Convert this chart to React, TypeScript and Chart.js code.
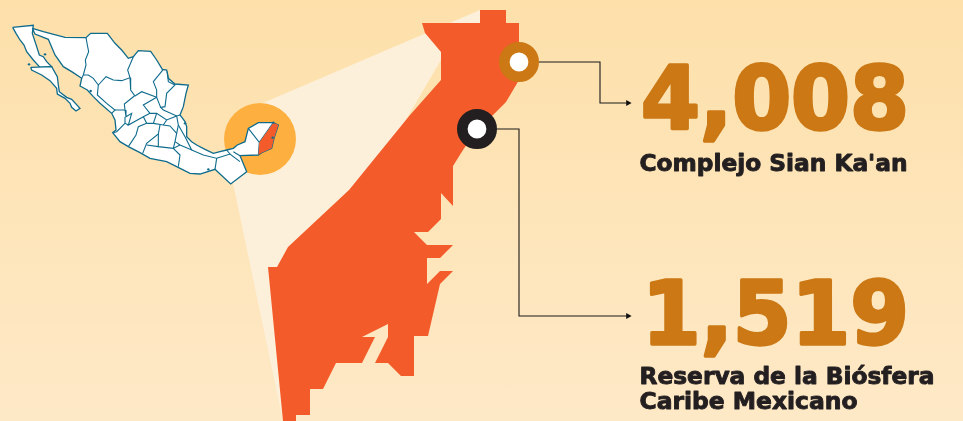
import React, { useEffect, useRef } from "react";
import { Chart, registerables } from "chart.js";

Chart.register(...registerables);

type P = [number, number];

const WIDTH = 963;
const HEIGHT = 421;

// Reserve counts
const categories = ["Complejo Sian Ka'an", "Reserva de la Biósfera", "Caribe Mexicano"];
const valueLabels = ["4,008", "1,519"];

const peninsula: P[] = [
  [480, 10], [506, 10], [506, 23], [519, 23], [519, 80], [506, 102], [493, 115], [477, 129], [463, 150],
  [453, 166], [453, 206], [441, 193], [441, 219], [428, 232], [414, 232], [427, 245], [453, 245], [440, 258],
  [427, 258], [427, 284], [440, 271], [453, 271], [440, 284], [428, 336], [414, 336], [414, 376], [401, 376],
  [388, 363], [375, 363], [388, 337], [388, 324], [362, 337], [375, 337], [362, 363], [336, 363], [323, 389],
  [310, 389], [310, 415], [296, 415], [296, 421], [283, 421], [268, 267], [277, 267], [288, 247], [349, 190],
  [410, 115], [441, 80], [441, 52], [425, 33], [422, 23], [480, 23],
];
const wedge: P[] = [[263, 103], [480, 10], [480, 23], [441, 60], [300, 300], [283, 421], [233, 183]];

const baja: P[] = [[38, 52], [100, 46], [97, 70], [110, 110], [118, 135], [130, 140], [140, 155], [155, 170], [120, 172], [100, 150], [80, 125], [72, 105], [60, 90], [48, 70]];
const bajaSur: P[] = [[92, 172], [155, 170], [172, 200], [175, 225], [178, 245], [200, 262], [215, 268], [240, 295], [228, 303], [215, 292], [210, 280], [195, 265], [172, 252], [170, 235], [150, 212], [125, 195], [95, 180]];
const mainland: P[] = [
  [97, 55], [130, 65], [195, 82], [258, 83], [272, 70], [322, 70], [345, 100], [365, 120], [385, 145], [400, 140],
  [415, 122], [452, 124], [470, 150], [487, 178], [500, 180], [505, 205], [525, 222], [565, 225], [558, 250],
  [550, 290], [540, 315], [555, 335], [560, 350], [560, 380], [575, 395], [590, 405], [615, 418], [640, 430],
  [660, 425], [680, 420], [700, 415], [712, 405], [735, 395], [745, 355], [775, 338], [820, 338], [835, 345],
  [822, 385], [815, 415], [785, 428], [775, 435], [720, 437], [740, 485], [692, 522], [645, 478], [600, 492],
  [570, 490], [530, 470], [500, 455], [450, 445], [420, 428], [385, 410], [360, 395], [338, 368], [348, 360],
  [345, 330], [335, 310], [300, 280], [280, 260], [262, 240], [240, 228], [245, 205], [215, 185], [190, 170],
  [165, 135], [145, 88], [105, 72],
];
const quintanaRoo: P[] = [[820, 338], [835, 345], [822, 385], [815, 415], [785, 428], [775, 435], [778, 397]];

const borders: P[][] = [
  [[258, 83], [262, 105], [266, 125], [256, 150], [258, 165], [250, 195]],
  [[245, 205], [250, 195], [265, 195], [280, 205], [295, 225], [318, 200], [340, 210], [365, 212], [390, 203], [383, 180], [400, 140]],
  [[295, 225], [292, 255], [320, 280], [345, 300], [335, 310]],
  [[345, 300], [375, 300], [373, 282], [403, 258]],
  [[390, 203], [392, 240], [405, 258], [425, 245], [470, 262]],
  [[490, 178], [460, 215], [470, 240], [470, 262], [482, 292]],
  [[502, 185], [505, 215], [525, 225], [500, 250], [495, 290], [482, 292], [490, 300], [530, 318], [540, 315]],
  [[470, 262], [430, 285], [450, 310], [470, 310], [500, 330], [530, 318]],
  [[375, 300], [378, 320], [395, 310], [385, 345], [430, 320], [450, 310]],
  [[375, 320], [375, 340], [350, 365], [340, 368]],
  [[430, 320], [440, 340], [415, 350], [408, 375], [385, 410]],
  [[375, 340], [385, 345]],
  [[470, 310], [460, 340], [440, 340]],
  [[500, 330], [490, 345], [460, 340]],
  [[480, 345], [475, 372], [440, 400], [428, 430]],
  [[490, 345], [510, 348], [530, 370], [525, 395], [520, 415], [475, 410], [475, 372]],
  [[440, 405], [475, 410]],
  [[530, 318], [535, 345], [530, 370]],
  [[535, 345], [555, 380], [575, 420], [540, 405], [525, 395]],
  [[535, 470], [540, 435], [520, 415], [540, 405]],
  [[575, 420], [610, 435], [650, 445], [645, 478]],
  [[650, 445], [690, 432], [720, 455]],
  [[680, 420], [690, 432]],
  [[700, 425], [720, 437]],
  [[775, 435], [778, 397], [745, 355]],
  [[778, 397], [820, 338]],
];
const islands: P[] = [[820, 338], [818, 383], [87, 163], [135, 133], [625, 478], [555, 340], [272, 243]];

const ringSianKaan: P = [519, 62];
const ringCaribe: P = [477, 129];
const insetCircle: P = [260, 139];
const leaderSianKaan: P[] = [[539, 62], [600, 62], [600, 103], [628, 103]];
const leaderCaribe: P[] = [[497, 129], [519, 129], [519, 316], [628, 316]];

const COL_ORANGE = "#F45B2A";
const COL_OCHRE = "#CB7815";
const COL_DARK = "#231F20";
const COL_LINE = "#0F6B8C";

const pts = (a: P[]) => a.map(([x, y]) => ({ x, y }));
const inset = (a: P[]) => a.map(([x, y]) => ({ x: x / 3, y: y / 3 + 10 }));

const shape = (data: { x: number; y: number }[], fillCol: string, stroke = "transparent", bw = 0) => ({
  type: "scatter" as const,
  data: [...data, data[0]],
  showLine: true,
  fill: "shape",
  tension: 0,
  backgroundColor: fillCol,
  borderColor: stroke,
  borderWidth: bw,
  pointRadius: 0,
  clip: false,
});

const polyline = (data: { x: number; y: number }[], color: string, bw: number) => ({
  type: "scatter" as const,
  data,
  showLine: true,
  fill: false,
  tension: 0,
  borderColor: color,
  borderWidth: bw,
  pointRadius: 0,
  clip: false,
});

const arrow = (p: P) => ({
  type: "scatter" as const,
  data: [{ x: p[0], y: p[1] }],
  showLine: false,
  pointStyle: "triangle",
  pointRotation: 90,
  pointRadius: 3.6,
  backgroundColor: "#111",
  borderColor: "#111",
  borderWidth: 0,
  clip: false,
});

const dot = (p: P, radius: number, fillCol: string, stroke = "transparent", bw = 0) => ({
  type: "scatter" as const,
  data: [{ x: p[0], y: p[1] }],
  showLine: false,
  pointStyle: "circle",
  pointRadius: radius,
  backgroundColor: fillCol,
  borderColor: stroke,
  borderWidth: bw,
  clip: false,
});

type Label = { text: string; x: number; y: number; w: number; size: number; color: string; stroke: number };
const labels: Label[] = [
  { text: valueLabels[0], x: 641, y: 128.5, w: 268, size: 88, color: COL_OCHRE, stroke: 3.4 },
  { text: categories[0], x: 639.5, y: 170.5, w: 268, size: 22.5, color: COL_DARK, stroke: 0.9 },
  { text: valueLabels[1], x: 642, y: 343.5, w: 267, size: 88, color: COL_OCHRE, stroke: 3.4 },
  { text: categories[1], x: 639.5, y: 384, w: 295, size: 22.5, color: COL_DARK, stroke: 0.9 },
  { text: categories[2], x: 639.5, y: 408.5, w: 218, size: 22.5, color: COL_DARK, stroke: 0.9 },
];

const textPlugin = {
  id: "infographicText",
  afterDraw(chart: any) {
    const { ctx, scales } = chart;
    labels.forEach((l) => {
      ctx.save();
      ctx.font = `bold ${l.size}px "DejaVu Sans", sans-serif`;
      ctx.textBaseline = "alphabetic";
      ctx.textAlign = "left";
      const k = l.w / ctx.measureText(l.text).width;
      ctx.translate(scales.x.getPixelForValue(l.x), scales.y.getPixelForValue(l.y));
      ctx.scale(k, 1);
      ctx.fillStyle = l.color;
      ctx.strokeStyle = l.color;
      ctx.lineWidth = l.stroke;
      ctx.lineJoin = "round";
      ctx.strokeText(l.text, 0, 0);
      ctx.fillText(l.text, 0, 0);
      ctx.restore();
    });
  },
};

export default function App() {
  const ref = useRef<HTMLCanvasElement>(null);
  useEffect(() => {
    document.body.style.margin = "0";
    // Chart.js paints the first dataset last, so the list is given bottom-to-top and reversed.
    const bottomToTop = [
      shape(pts(wedge), "#FDF0DA"),
      dot(insetCircle, 36, "#FDB040"),
      shape(inset(baja), "#FFFFFF", COL_LINE, 1.3),
      shape(inset(bajaSur), "#FFFFFF", COL_LINE, 1.3),
      shape(inset(mainland), "#FFFFFF", COL_LINE, 1.3),
      ...borders.map((b) => polyline(inset(b), COL_LINE, 1.1)),
      shape(inset(quintanaRoo), COL_ORANGE),
      ...islands.map((p) => {
        const [q] = inset([p]);
        return dot([q.x, q.y], 1.2, COL_LINE);
      }),
      shape(pts(peninsula), COL_ORANGE),
      polyline(pts(leaderSianKaan), "#1a1a1a", 1.1),
      polyline(pts(leaderCaribe), "#1a1a1a", 1.1),
      arrow([628, 103]),
      arrow([628, 316]),
      dot(ringSianKaan, 14.7, "#FFFFFF", COL_OCHRE, 10.6),
      dot(ringCaribe, 14.7, "#FFFFFF", COL_DARK, 10.6),
    ];
    const chart = new Chart(ref.current!, {
      type: "scatter",
      data: { datasets: bottomToTop.reverse() as any },
      options: {
        animation: false,
        responsive: false,
        events: [],
        layout: { padding: 0, autoPadding: false },
        plugins: { legend: { display: false }, tooltip: { enabled: false }, title: { display: false } },
        scales: {
          x: { type: "linear", min: 0, max: WIDTH, display: false },
          y: { type: "linear", min: 0, max: HEIGHT, reverse: true, display: false },
        },
      },
      plugins: [textPlugin],
    });
    return () => chart.destroy();
  }, []);
  return (
    <div style={{ width: WIDTH, height: HEIGHT, background: "linear-gradient(180deg,#FDE0AA 0%,#FEE9C7 100%)", overflow: "hidden" }}>
      <canvas ref={ref} width={WIDTH} height={HEIGHT} style={{ display: "block" }} />
    </div>
  );
}
